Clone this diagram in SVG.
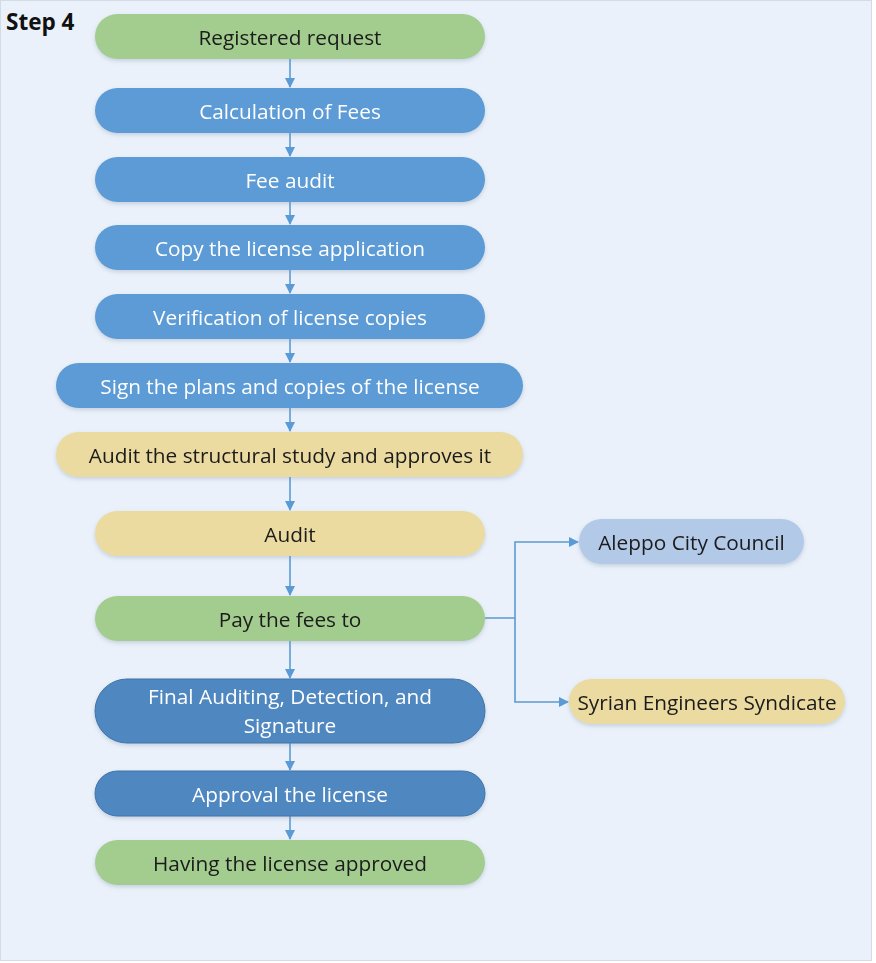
<svg xmlns="http://www.w3.org/2000/svg" width="876" height="963" viewBox="0 0 876 963">
  <style>
    .lbl { font-family: "Open Sans", "Liberation Sans", sans-serif; font-size: 20.8px; text-anchor: middle; dominant-baseline: central; }
    .dark { fill: #1b1b1b; }
    .light { fill: #ffffff; }
    .green { fill: #a3cc8f; }
    .blue { fill: #5b9bd5; }
    .navy { fill: #4f87c0; stroke: #3f73a8; stroke-width: 1; }
    .sand { fill: #ebdba0; }
    .pale { fill: #b3c9e8; }
    .conn { stroke: #5b9bd5; stroke-width: 1.6; fill: none; }
  </style>
  <defs>
    <marker id="arrow" markerWidth="10" markerHeight="10" refX="9" refY="5" orient="auto" markerUnits="userSpaceOnUse">
      <path d="M0,0 L10,5 L0,10 Z" fill="#5b9bd5"/>
    </marker>
    <filter id="shadow" x="-10%" y="-20%" width="120%" height="160%">
      <feDropShadow dx="0" dy="2" stdDeviation="2" flood-color="#7f93ad" flood-opacity="0.35"/>
    </filter>
  </defs>

  <!-- page background -->
  <rect x="0.5" y="0.5" width="871" height="960" fill="#eaf1fa" stroke="#d3dbe5" stroke-width="1"/>
  <text x="6" y="30" style="font-family: 'Open Sans', 'Liberation Sans', sans-serif; font-size: 22.5px; font-weight: bold;" fill="#111">Step 4</text>

  <!-- connectors -->
  <g id="connectors">
    <line class="conn" x1="290" y1="59" x2="290" y2="87" marker-end="url(#arrow)"/>
    <line class="conn" x1="290" y1="133" x2="290" y2="156" marker-end="url(#arrow)"/>
    <line class="conn" x1="290" y1="202" x2="290" y2="224" marker-end="url(#arrow)"/>
    <line class="conn" x1="290" y1="270" x2="290" y2="293" marker-end="url(#arrow)"/>
    <line class="conn" x1="290" y1="339" x2="290" y2="362" marker-end="url(#arrow)"/>
    <line class="conn" x1="290" y1="408" x2="290" y2="431" marker-end="url(#arrow)"/>
    <line class="conn" x1="290" y1="477" x2="290" y2="510" marker-end="url(#arrow)"/>
    <line class="conn" x1="290" y1="556" x2="290" y2="595" marker-end="url(#arrow)"/>
    <line class="conn" x1="290" y1="641" x2="290" y2="678" marker-end="url(#arrow)"/>
    <line class="conn" x1="290" y1="743" x2="290" y2="770" marker-end="url(#arrow)"/>
    <line class="conn" x1="290" y1="816" x2="290" y2="839" marker-end="url(#arrow)"/>
    <polyline class="conn" points="485,618 515,618 515,542 578,542" marker-end="url(#arrow)"/>
    <polyline class="conn" points="515,618 515,702 568,702" marker-end="url(#arrow)"/>
  </g>

  <g id="n1" filter="url(#shadow)">
    <rect class="green" x="95" y="14" width="390" height="45" rx="22.5"/>
    <text class="lbl dark" x="290" y="36.5">Registered request</text>
  </g>
  <g id="n2" filter="url(#shadow)">
    <rect class="blue" x="95" y="88" width="390" height="45" rx="22.5"/>
    <text class="lbl light" x="290" y="110.5">Calculation of Fees</text>
  </g>
  <g id="n3" filter="url(#shadow)">
    <rect class="blue" x="95" y="157" width="390" height="45" rx="22.5"/>
    <text class="lbl light" x="290" y="179.5">Fee audit</text>
  </g>
  <g id="n4" filter="url(#shadow)">
    <rect class="blue" x="95" y="225" width="390" height="45" rx="22.5"/>
    <text class="lbl light" x="290" y="247.5">Copy the license application</text>
  </g>
  <g id="n5" filter="url(#shadow)">
    <rect class="blue" x="95" y="294" width="390" height="45" rx="22.5"/>
    <text class="lbl light" x="290" y="316.5">Verification of license copies</text>
  </g>
  <g id="n6" filter="url(#shadow)">
    <rect class="blue" x="56" y="363" width="467" height="45" rx="22.5"/>
    <text class="lbl light" x="290" y="385.5">Sign the plans and copies of the license</text>
  </g>
  <g id="n7" filter="url(#shadow)">
    <rect class="sand" x="56" y="432" width="467" height="45" rx="22.5"/>
    <text class="lbl dark" x="290" y="454.5">Audit the structural study and approves it</text>
  </g>
  <g id="n8" filter="url(#shadow)">
    <rect class="sand" x="95" y="511" width="390" height="45" rx="22.5"/>
    <text class="lbl dark" x="290" y="533.5">Audit</text>
  </g>
  <g id="n9" filter="url(#shadow)">
    <rect class="green" x="95" y="596" width="390" height="45" rx="22.5"/>
    <text class="lbl dark" x="290" y="618.5">Pay the fees to</text>
  </g>
  <g id="n10" filter="url(#shadow)">
    <rect class="navy" x="95" y="679" width="390" height="64" rx="32"/>
    <text class="lbl light" x="290" y="696">Final Auditing, Detection, and</text>
    <text class="lbl light" x="290" y="725">Signature</text>
  </g>
  <g id="n11" filter="url(#shadow)">
    <rect class="navy" x="95" y="771" width="390" height="45" rx="22.5"/>
    <text class="lbl light" x="290" y="793.5">Approval the license</text>
  </g>
  <g id="n12" filter="url(#shadow)">
    <rect class="green" x="95" y="840" width="390" height="45" rx="22.5"/>
    <text class="lbl dark" x="290" y="862.5">Having the license approved</text>
  </g>
  <g id="n13" filter="url(#shadow)">
    <rect class="pale" x="579" y="519" width="225" height="45" rx="22.5"/>
    <text class="lbl dark" x="691.5" y="541.5">Aleppo City Council</text>
  </g>
  <g id="n14" filter="url(#shadow)">
    <rect class="sand" x="569" y="679" width="276" height="45" rx="22.5"/>
    <text class="lbl dark" x="707" y="701.5">Syrian Engineers Syndicate</text>
  </g>
</svg>
